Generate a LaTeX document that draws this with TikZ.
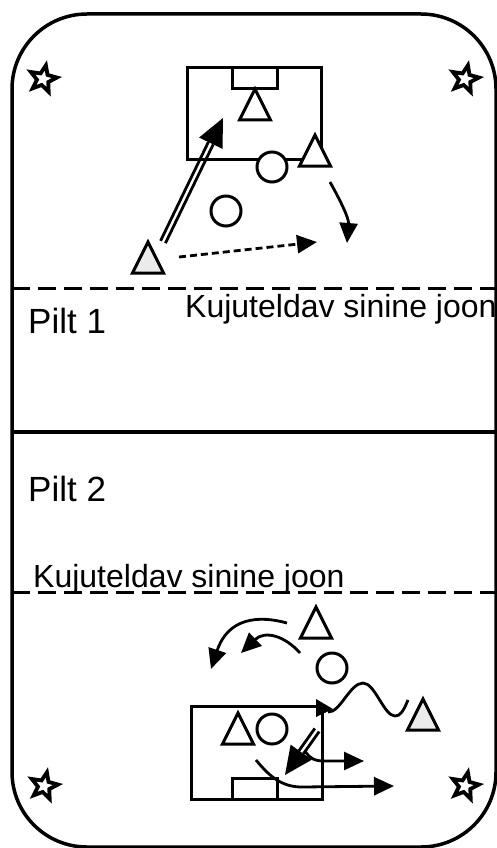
\documentclass[tikz,border=0pt]{standalone}
\usepackage{fontspec}
\setmainfont{Liberation Sans}
\usetikzlibrary{arrows.meta,calc,shapes.geometric}
\newcommand\mytri[3]{\draw[plr, fill=#3] (#1,#2) -- ++(15.5,31) -- ++(-31,0) -- cycle;}
\newcommand\dblarr[2]{%
  \coordinate (da) at (#1); \coordinate (db) at (#2);
  \coordinate (dh) at ($(db)!28pt!(da)$);
  \draw[line width=2.8pt] ($(da)!2.7pt!90:(dh)$) -- ($(dh)!2.7pt!-90:(da)$);
  \draw[line width=2.8pt] ($(da)!2.7pt!-90:(dh)$) -- ($(dh)!2.7pt!90:(da)$);
  \fill ($(dh)!13pt!90:(db)$) -- (db) -- ($(dh)!13pt!-90:(db)$) -- cycle;}
\tikzset{
  plr/.style={draw, line width=3pt},
  fld/.style={draw, line width=3pt},
  dashline/.style={line width=3pt, dash pattern=on 18pt off 8pt},
  arr/.style={line width=2.8pt, -{Triangle[length=20pt,width=18pt]}},
  starsty/.style={draw, line width=3.8pt, star, star points=5, star point ratio=2.3, minimum size=28pt, inner sep=0pt},
  txt/.style={inner sep=0pt, font=\fontsize{32}{32}\selectfont}
}
\definecolor{lgray}{HTML}{EBEBEB}
\begin{document}
\begin{tikzpicture}[x=1pt,y=-1pt]
\useasboundingbox (0,0) rectangle (497,848);
\fill[white] (0,0) rectangle (497,848);
% outer border
\draw[line width=3.5pt, rounded corners=75pt] (12,14) rectangle (496,847);
% separators
\draw[dashline] (12,288) -- (497,288);
\draw[line width=3.5pt] (12,432) -- (497,432);
\draw[dashline] (12,592) -- (497,592);
% texts
\node[txt, anchor=base west, font=\fontsize{35}{35}\selectfont] (p1) at (28,333) {Pilt 1};
\node[txt, anchor=base west] (k1) at (185,317) {Kujuteldav sinine joon};
\node[txt, anchor=base west, font=\fontsize{35}{35}\selectfont] (p2) at (28,501) {Pilt 2};
\node[txt, anchor=base west] (k2) at (33,587) {Kujuteldav sinine joon};
% stars
\node[starsty, rotate=-12] (s1) at (43,79) {};
\node[starsty, rotate=-12] (s2) at (465,79) {};
\node[starsty, rotate=-12] (s3) at (44,786) {};
\node[starsty, rotate=-12] (s4) at (465,786) {};
% ---- top drill ----
\draw[fld] (187,68) rectangle (321,159);
\draw[fld] (232,68) rectangle (277,89);
\mytri{255}{89}{white}
\mytri{315}{135}{white}
\draw[plr, fill=white] (272,167) circle[radius=15pt];
\draw[plr] (226,211) circle[radius=15pt];
\mytri{148}{242}{lgray}
\dblarr{163,242}{223,118}
\draw[arr, dash pattern=on 7pt off 4pt] (179,257) -- (317,242);
\draw[arr] (330,182) .. controls (340,200) and (349,218) .. (347,243);
% ---- bottom drill ----
\draw[fld] (191,706) rectangle (322,799);
\draw[fld] (232,778) rectangle (277,799);
\mytri{238}{713}{white}
\draw[plr] (272,729) circle[radius=15pt];
\mytri{316}{607}{white}
\draw[plr] (332,668) circle[radius=15pt];
\mytri{423}{699}{lgray}
\draw[arr] (287,623) .. controls (258,615) and (228,618) .. (211,669);
\draw[arr] (300,653) .. controls (285,636) and (265,630) .. (241,653);
\draw[line width=2.8pt] (408,700) .. controls (403,712) and (400,716) .. (395,716)
  .. controls (384,716) and (375,683) .. (363,683)
  .. controls (350,683) and (340,713) .. (328,712);
\fill (316,699) -- (333,709) -- (316,717) -- cycle;
\dblarr{317,730}{285,775}
\draw[arr] (305,751) .. controls (310,759) and (315,761) .. (325,761) -- (364,761);
\draw[arr] (256,760) .. controls (270,777) and (282,787) .. (302,787) -- (394,786);
\end{tikzpicture}
\end{document}
